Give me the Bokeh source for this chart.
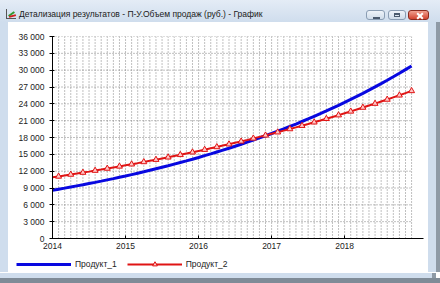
from bokeh.plotting import figure
from bokeh.models import Range1d, FixedTicker, Legend, LegendItem, Div
from bokeh.layouts import column, row
from bokeh.embed import file_html
from bokeh.resources import INLINE

# ---------------- data ----------------
title_text = "Детализация результатов - П-У.Объем продаж (руб.) - График"
series_names = ["Продукт_1", "Продукт_2"]
start_year = 2014
year_ticks = [2014, 2015, 2016, 2017, 2018]
y_ticks = [0, 3000, 6000, 9000, 12000, 15000, 18000, 21000, 24000, 27000, 30000, 33000, 36000]
y_tick_labels = ["0", "3 000", "6 000", "9 000", "12 000", "15 000", "18 000",
                 "21 000", "24 000", "27 000", "30 000", "33 000", "36 000"]
month_index = list(range(60))
product_1 = [8600, 8790, 8980, 9180, 9380, 9580, 9790, 10000, 10220, 10450,
             10670, 10910, 11140, 11390, 11640, 11890, 12150, 12420, 12690, 12960,
             13250, 13540, 13830, 14130, 14440, 14760, 15080, 15410, 15740, 16090,
             16440, 16800, 17170, 17540, 17920, 18310, 18710, 19120, 19540, 19970,
             20400, 20850, 21300, 21770, 22240, 22730, 23230, 23730, 24250, 24780,
             25320, 25870, 26440, 27020, 27610, 28210, 28820, 29450, 30100, 30750]
product_2 = [10900, 11060, 11230, 11400, 11570, 11750, 11920, 12100, 12280, 12470,
             12660, 12850, 13040, 13230, 13430, 13640, 13840, 14050, 14260, 14470,
             14690, 14910, 15140, 15370, 15600, 15830, 16070, 16310, 16560, 16800,
             17060, 17310, 17570, 17840, 18110, 18380, 18660, 18940, 19220, 19510,
             19800, 20100, 20400, 20710, 21020, 21340, 21660, 21980, 22310, 22650,
             22990, 23340, 23690, 24040, 24410, 24770, 25150, 25520, 25910, 26300]

x = [start_year + m / 12 for m in month_index]

FRAME = "#cfdded"
DARK = "#8e9aa6"
FONT = "Liberation Sans"
BLUE = "#0808e0"
RED = "#e01414"
PINK = "#ffc6c6"

# ---------------- main chart ----------------
p = figure(width=420, height=232, output_backend="svg", toolbar_location=None,
           x_range=Range1d(2014, 2019.08), y_range=Range1d(0, 36000),
           min_border_left=44, min_border_right=5, min_border_top=14, min_border_bottom=16,
           background_fill_color="white", border_fill_color="white",
           outline_line_color=None, margin=0)
p.xgrid.grid_line_color = None
p.ygrid.grid_line_color = None

# dotted grid, stopping at the last month
p.segment(x0=x, y0=[y_ticks[0]] * len(x), x1=x, y1=[y_ticks[-1]] * len(x),
          line_color="#808080", line_dash="1 2", line_width=1)
p.segment(x0=[x[0]] * len(y_ticks), y0=y_ticks, x1=[x[-1]] * len(y_ticks), y1=y_ticks,
          line_color="#808080", line_dash="1 2", line_width=1)

p.line(x, product_1, line_color=BLUE, line_width=3)
p.line(x, product_2, line_color=RED, line_width=2)
p.scatter(x[1::2], product_2[1::2], marker="triangle", size=6,
          fill_color=PINK, line_color=RED, line_width=1)

for ax in (p.xaxis[0], p.yaxis[0]):
    ax.axis_line_color = "black"
    ax.major_tick_line_color = "black"
    ax.minor_tick_line_color = None
    ax.major_label_text_font = FONT
    ax.major_label_text_font_size = "8.5px"
    ax.major_label_text_color = "#222222"
    ax.major_label_standoff = 5

p.xaxis.ticker = FixedTicker(ticks=year_ticks)
p.xaxis.major_label_overrides = {t: str(t) for t in year_ticks}
p.xaxis.major_tick_in = 3
p.xaxis.major_tick_out = 0
p.xaxis.major_label_standoff = 4
p.yaxis.ticker = FixedTicker(ticks=y_ticks)
p.yaxis.major_label_overrides = dict(zip(y_ticks, y_tick_labels))
p.yaxis.major_tick_in = 2
p.yaxis.major_tick_out = 3

# ---------------- legend strip ----------------
lg = figure(width=420, height=18, output_backend="svg", toolbar_location=None,
            x_axis_type=None, y_axis_type=None,
            min_border_left=0, min_border_right=0, min_border_top=0, min_border_bottom=0,
            x_range=Range1d(0, 1), y_range=Range1d(0, 1),
            background_fill_color="white", border_fill_color="white",
            outline_line_color=None, margin=0)
lg.frame_align = False
lg.xgrid.visible = False
lg.ygrid.visible = False
r1 = lg.line([-5, -4], [-5, -4], line_color=BLUE, line_width=3)
r2 = lg.line([-5, -4], [-5, -4], line_color=RED, line_width=2)
r3 = lg.scatter([-5], [-5], marker="triangle", size=6, fill_color=PINK, line_color=RED, line_width=1)
legend = Legend(items=[LegendItem(label=series_names[0], renderers=[r1]),
                       LegendItem(label=series_names[1], renderers=[r2, r3])],
                location=(8, 2), orientation="horizontal",
                glyph_width=55, glyph_height=12, label_standoff=4, spacing=10,
                padding=2, margin=0, border_line_color=None, background_fill_alpha=0,
                label_text_font=FONT, label_text_font_size="8.5px",
                label_text_color="#222222", label_height=12)
lg.add_layout(legend, "center")

# ---------------- window chrome ----------------
btn = ("position:absolute;top:10px;height:10px;border:1px solid #8a9db3;"
       "border-radius:3px;background:linear-gradient(#eef3f9,#cfdcea);")
title_html = f"""
<div style="position:relative;width:440px;height:22px;background:linear-gradient(#e4ecf6,{FRAME});overflow:hidden;">
  <div style="position:absolute;left:6px;top:9px;width:10px;height:10px;border-left:1px solid #555;border-bottom:1px solid #555;"></div>
  <div style="position:absolute;left:8px;top:13px;width:7px;height:2px;background:#2f9a2f;transform:rotate(-35deg);"></div>
  <div style="position:absolute;left:9px;top:15px;width:7px;height:2px;background:#d02020;transform:rotate(-15deg);"></div>
  <div style="position:absolute;left:19px;top:8px;font-family:'{FONT}';font-size:8.5px;color:#1a1a1a;white-space:nowrap;">{title_text}</div>
  <div style="{btn}left:366px;width:19px;"><div style="position:absolute;left:6px;top:6px;width:7px;height:2px;background:#4a5a6e;"></div></div>
  <div style="{btn}left:388px;width:18px;"><div style="position:absolute;left:5px;top:2px;width:6px;height:4px;border:1px solid #4a5a6e;border-top-width:2px;"></div></div>
  <div style="position:absolute;top:10px;left:408px;width:21px;height:10px;border:1px solid #8a2a1e;border-radius:3px;background:linear-gradient(#f0a090,#d2432f);">
    <div style="position:absolute;left:7px;top:4px;width:8px;height:2px;background:white;transform:rotate(45deg);"></div>
    <div style="position:absolute;left:7px;top:4px;width:8px;height:2px;background:white;transform:rotate(-45deg);"></div>
  </div>
</div>"""
title_div = Div(text=title_html, width=440, height=22, margin=0)

left_div = Div(text=f'<div style="width:8px;height:250px;background:{FRAME};"></div>',
               width=8, height=250, margin=0)
right_div = Div(text=f'<div style="display:flex;width:12px;height:250px;">'
                     f'<div style="width:8px;height:250px;background:{FRAME};"></div>'
                     f'<div style="width:4px;height:250px;background:{DARK};"></div></div>',
                width=12, height=250, margin=0)
bottom_div = Div(text=f'<div style="width:440px;height:11px;">'
                      f'<div style="width:436px;height:5px;background:{FRAME};border-right:4px solid {DARK};"></div>'
                      f'<div style="width:440px;height:6px;background:#7f8b97;"></div></div>',
                 width=440, height=11, margin=0)

center = column(p, lg, spacing=0, margin=0)
layout = column(title_div, row(left_div, center, right_div, spacing=0, margin=0), bottom_div,
                spacing=0, margin=0)

open("out.html", "w").write(file_html(layout, INLINE))
